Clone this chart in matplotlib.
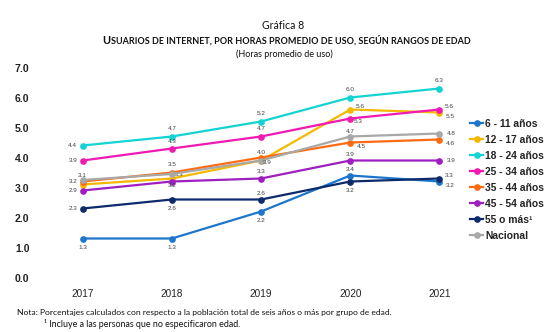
import matplotlib
matplotlib.use("Agg")
import matplotlib.pyplot as plt
from matplotlib.lines import Line2D

# Data
years = ["2017", "2018", "2019", "2020", "2021"]
series_names = ["6 - 11 años", "12 - 17 años", "18 - 24 años", "25 - 34 años",
                "35 - 44 años", "45 - 54 años", "55 o más¹", "Nacional"]
age_6_11 = [1.3, 1.3, 2.2, 3.4, 3.2]
age_12_17 = [3.1, 3.3, 3.9, 5.6, 5.5]
age_18_24 = [4.4, 4.7, 5.2, 6.0, 6.3]
age_25_34 = [3.9, 4.3, 4.7, 5.3, 5.6]
age_35_44 = [3.2, 3.5, 4.0, 4.5, 4.6]
age_45_54 = [2.9, 3.2, 3.3, 3.9, 3.9]
age_55_plus = [2.3, 2.6, 2.6, 3.2, 3.3]
nacional = [3.25, 3.45, 3.9, 4.7, 4.8]
y_ticks = [0, 1, 2, 3, 4, 5, 6, 7]

values = [age_6_11, age_12_17, age_18_24, age_25_34,
          age_35_44, age_45_54, age_55_plus, nacional]
colors = ["#1C76CB", "#F4B800", "#14D3D3", "#F01AB2",
          "#FF6A12", "#9E1FC0", "#0D2A6A", "#A8A8A8"]

# value-label offsets in pixels (dx right, dy up) from each marker; None = no label
U = (0, 8)
D = (0, -9)
L = (-10, 0)
R = (12, 0)
RD = (11, -4)
RU = (10, 3)
label_pos = [
    [D, D, D, (0, 6), RD],            # 6-11
    [(0, 9), (7, 4), None, RU, RD],   # 12-17
    [L, U, U, U, U],                  # 18-24
    [L, (0, 7), U, (8, -3), RU],      # 25-34
    [L, U, (0, 5), RD, RD],           # 35-44
    [L, (0, -4), (0, 7), (0, 6), R],  # 45-54
    [L, D, (0, 6), D, RU],            # 55+
    [None, None, (6, -2), (0, 5), R], # Nacional
]

W, H = 560, 332
fig = plt.figure(figsize=(W / 100, H / 100), dpi=100)
x_lo, x_hi = -0.3, 4.3
px_per_x = 89.2
x0_px = 82.7
left_px = x0_px + x_lo * px_per_x
right_px = x0_px + x_hi * px_per_x
bottom_px, top_px = 277.5, 67.5
ax = fig.add_axes([left_px / W, 1 - bottom_px / H,
                   (right_px - left_px) / W, (bottom_px - top_px) / H])
ax.set_xlim(x_lo, x_hi)
ax.set_ylim(0, 7)

xs = list(range(len(years)))
handles = []
for name, vals, col, lp in zip(series_names, values, colors, label_pos):
    ax.plot(xs, vals, color=col, lw=1.6, marker="o", ms=3.8, zorder=3,
            clip_on=False)
    handles.append(Line2D([0], [0], color=col, lw=1.6, marker="o", ms=3.8))
    for x, v, p in zip(xs, vals, lp):
        if p is None:
            continue
        dx, dy = p
        ax.annotate(f"{v:.1f}", (x, v), xytext=(dx * 0.72, dy * 0.72),
                    textcoords="offset points", ha="center", va="center",
                    fontsize=4.6, color="#404040", family="Liberation Sans")

for s in ax.spines.values():
    s.set_visible(False)
ax.set_xticks(xs)
ax.set_xticklabels(years, fontsize=7.2, family="Liberation Sans", color="#222222")
ax.set_yticks(y_ticks)
ax.set_yticklabels([f"{t:.1f}" for t in y_ticks], fontsize=7.5,
                   family="Liberation Sans", fontweight="bold", color="#222222")
ax.tick_params(axis="y", length=0, pad=19)
ax.tick_params(axis="x", length=0, pad=8)

leg = fig.legend(handles, series_names, loc="upper left",
                 bbox_to_anchor=(470 / W, 1 - 119 / H), frameon=False,
                 prop={"family": "Liberation Sans", "weight": "bold", "size": 7.4},
                 handlelength=1.27, handletextpad=0.2, labelspacing=0.58,
                 borderaxespad=0, borderpad=0)
for t in leg.get_texts():
    t.set_color("#222222")

fig.text(283 / W, 1 - 25.5 / H, "Gráfica 8", ha="center", va="center",
         fontsize=7.6, family="Lato", color="#111111")

# small-caps style subtitle: larger initial letter followed by smaller capitals
first = fig.text(102 / W, 1 - 43.5 / H, "U", ha="left", va="baseline",
                 fontsize=7.9, family="Lato", fontweight="bold", color="#111111")
fig.add_artist(plt.Annotation(
    "SUARIOS DE INTERNET, POR HORAS PROMEDIO DE USO, SEGÚN RANGOS DE EDAD",
    xy=(1, 0), xycoords=first, xytext=(0.3, 0), textcoords="offset points",
    ha="left", va="bottom", fontsize=6.45, family="Lato",
    fontweight="bold", color="#111111", annotation_clip=False))

fig.text(284 / W, 1 - 54 / H, "(Horas promedio de uso)", ha="center",
         va="center", fontsize=6.5, family="Lato", color="#111111")

fig.text(17 / W, 1 - 312 / H,
         "Nota: Porcentajes calculados con respecto a la población total de seis años o más por grupo de edad.",
         ha="left", va="center", fontsize=6.1, family="Lato", color="#111111")
fig.text(44 / W, 1 - 324 / H,
         "¹ Incluye a las personas que no especificaron edad.",
         ha="left", va="center", fontsize=6.4, family="Lato", color="#111111")

fig.savefig("out.png", dpi=100, facecolor="white")
